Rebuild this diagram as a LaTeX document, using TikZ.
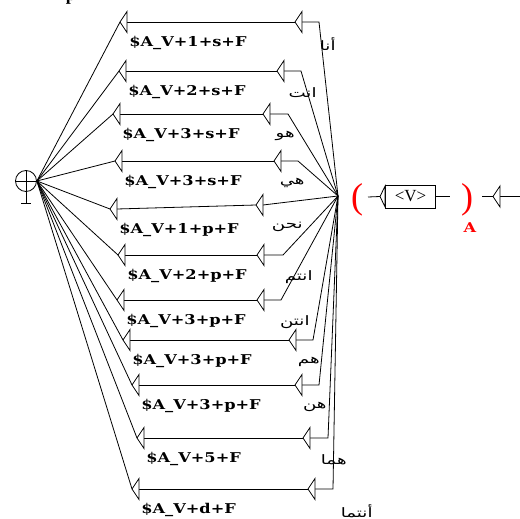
\documentclass[tikz,border=0pt]{standalone}
\usepackage{fontspec}
\setmainfont{Liberation Serif}
\newfontfamily\outfont[FakeStretch=1.2]{DejaVu Serif}
\newfontfamily\arfont[Script=Arabic,FakeStretch=1.4]{DejaVu Sans}
\TeXXeTstate=1
\usetikzlibrary{positioning}

\begin{document}
\begin{tikzpicture}[x=1pt,y=-1pt,line width=0.8pt,
    tri/.style={draw,fill=white},
    outtxt/.style={font=\outfont\bfseries\fontsize{13.5}{13.5}\selectfont,inner sep=0pt,anchor=west},
    artxt/.style={font=\arfont\fontsize{13}{13}\selectfont,inner sep=0pt,anchor=east},
    paren/.style={text=red,font=\fontsize{36}{36}\selectfont,inner sep=0pt}]
  \useasboundingbox (0,0) rectangle (520,519);
  % id / x left tip / y left / y right / x right tip / x corner / output / word / x word
  \def \Rows{
    1/120/22/22/295/319/\$A\_V+1+s+F/أنا/336,
    2/119/71/71/277/301/\$A\_V+2+s+F/انت/317,
    3/113/114/114/263/288/\$A\_V+3+s+F/هو/295,
    4/115/161/161/274/298/\$A\_V+3+s+F/هي/305,
    5/110/209/205/256/263/\$A\_V+1+p+F/نحن/303,
    6/118/255/255/257/283/\$A\_V+2+p+F/انتم/313,
    7/117/300/300/257/281/\$A\_V+3+p+F/انتن/310,
    8/123/340/340/289/313/\$A\_V+3+p+F/هم/320,
    9/132/385/385/295/319/\$A\_V+3+p+F/هن/327,
    10/137/438/438/303/328/\$A\_V+5+F/هما/347,
    11/132/489/489/308/333/\$A\_V+d+F/أنتما/373}
  % final state
  \node[draw,circle,minimum size=21pt,inner sep=0pt] (fin) at (26,181) {};
  \coordinate (stem) at (26,203);
  \draw (fin.west) -- (fin.east);
  \draw (fin.north) -- (stem);
  \draw ([xshift=-5pt]stem) -- ([xshift=5pt]stem);
  \coordinate (mrg) at (338,196);
  \node[font=\fontsize{18}{18}\selectfont\bfseries,inner sep=0pt,anchor=base] (cut) at (71,1) {p};
  \foreach \i / \xl / \yl / \yr / \xr / \xc / \out / \ar / \xa in \Rows{
    \coordinate (lt\i) at (\xl,\yl);
    \coordinate (lb\i) at (\xl+7,\yl);
    \coordinate (rt\i) at (\xr,\yr);
    \coordinate (rb\i) at (\xr+7,\yr);
    \coordinate (rc\i) at (\xc,\yr);
    \draw (fin.east) -- (lt\i);
    \draw (lb\i) -- (rt\i);
    \draw (rb\i) -- (rc\i) -- (mrg);
    \draw[tri] (lt\i) -- ++(7,-10.5) -- ++(0,21) -- cycle;
    \draw[tri] (rt\i) -- ++(7,-10.5) -- ++(0,21) -- cycle;
    \node[outtxt] (o\i) at (\xl+9,\yl+21) {\out};
    \node[artxt] (a\i) at (\xa,\yr+22) {\beginR\ar\endR};
  }
  % subgraph call with output A
  \node[paren] (lp) at (357,200) {(};
  \coordinate (lpo) at (368,197);
  \node[draw,minimum width=50pt,minimum height=23pt,inner sep=0pt,
    font=\fontsize{17}{17}\selectfont] (vbox) at (410.5,196.5) {<V>};
  \coordinate (vtip) at (380,196.5);
  \coordinate (vout) at (450,196.5);
  \draw (lpo) -- (vtip);
  \draw[tri] (vtip) -- ([yshift=-10.5pt]vbox.west) -- ([yshift=10.5pt]vbox.west) -- cycle;
  \draw (vbox.east) -- (vout);
  \node[paren] (rp) at (467,200) {)};
  \node[text=red,font=\outfont\bfseries\fontsize{13.5}{13.5}\selectfont,inner sep=0pt] (outA) at (470,228) {A};
  \coordinate (rpo) at (482,196.5);
  \coordinate (itip) at (493,196.5);
  \coordinate (ibase) at (500,196.5);
  \coordinate (iend) at (521,196.5);
  \draw (rpo) -- (itip);
  \draw (ibase) -- (iend);
  \draw[tri] (itip) -- ++(7,-10.5) -- ++(0,21) -- cycle;
\end{tikzpicture}
\end{document}
